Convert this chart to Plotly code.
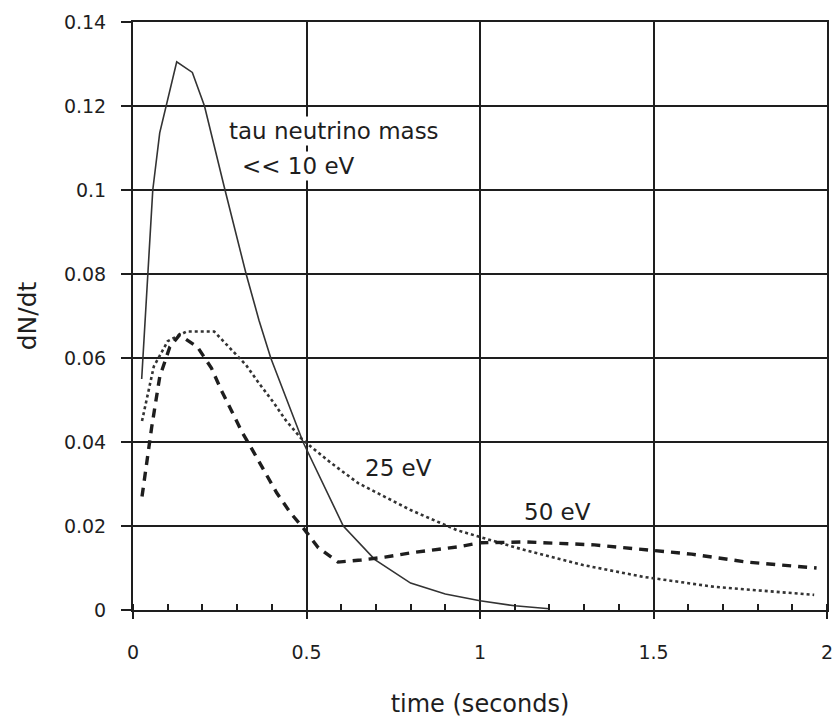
import plotly.graph_objects as go

# <<10 eV (solid)
t_light = [0.025, 0.046, 0.057, 0.077, 0.097, 0.126, 0.171, 0.206, 0.263, 0.326, 0.363, 0.397,
           0.49, 0.606, 0.697, 0.80, 0.90, 1.0, 1.1, 1.2]
n_light = [0.055, 0.083, 0.100, 0.1136, 0.1207, 0.1305, 0.128, 0.120, 0.1007, 0.080, 0.069, 0.060,
           0.040, 0.020, 0.012, 0.0064, 0.0038, 0.0022, 0.001, 0.0003]

# 25 eV (dotted)
t_25 = [0.026, 0.06, 0.1, 0.154, 0.234, 0.277, 0.326, 0.363, 0.406, 0.44, 0.483, 0.514, 0.571,
        0.649, 0.80, 0.934, 1.01, 1.106, 1.297, 1.47, 1.677, 1.963]
n_25 = [0.045, 0.058, 0.064, 0.0663, 0.0663, 0.0626, 0.0583, 0.054, 0.0493, 0.0452, 0.041, 0.0388,
        0.035, 0.0302, 0.0238, 0.019, 0.0171, 0.0148, 0.0107, 0.0079, 0.0055, 0.0036]

# 50 eV (dashed)
t_50 = [0.026, 0.054, 0.077, 0.106, 0.134, 0.186, 0.226, 0.254, 0.286, 0.314, 0.349, 0.383, 0.414,
        0.454, 0.491, 0.534, 0.591, 0.657, 0.726, 0.80, 0.934, 1.0, 1.134, 1.33, 1.47, 1.61, 1.77, 1.97]
n_50 = [0.027, 0.0436, 0.0555, 0.0626, 0.0655, 0.0626, 0.0576, 0.0524, 0.0471, 0.0424, 0.0374,
        0.0326, 0.0279, 0.0231, 0.0195, 0.0148, 0.0114, 0.0119, 0.0126, 0.0136, 0.015, 0.016, 0.0162,
        0.0155, 0.0145, 0.0133, 0.0114, 0.0100]

x_ticks = [0, 0.5, 1, 1.5, 2]
x_tick_labels = ["0", "0.5", "1", "1.5", "2"]
y_ticks = [0, 0.02, 0.04, 0.06, 0.08, 0.1, 0.12, 0.14]
y_tick_labels = ["0", "0.02", "0.04", "0.06", "0.08", "0.1", "0.12", "0.14"]

ink = "#1e1e1e"
FONT = "DejaVu Sans"

fig = go.Figure()
fig.add_trace(go.Scatter(x=t_light, y=n_light, mode="lines",
                         line=dict(color="#333333", width=1.6), showlegend=False))
fig.add_trace(go.Scatter(x=t_25, y=n_25, mode="lines",
                         line=dict(color="#333333", width=2.6, dash="dot"), showlegend=False))
fig.add_trace(go.Scatter(x=t_50, y=n_50, mode="lines",
                         line=dict(color=ink, width=3.4, dash="9px,7px"), showlegend=False))

ann_font = dict(family=FONT, size=23, color=ink)
fig.add_annotation(x=0.58, y=0.1140, text="tau neutrino mass", showarrow=False, font=ann_font,
                   xanchor="center", yanchor="middle", bgcolor="white")
fig.add_annotation(x=0.477, y=0.1057, text="<< 10 eV", showarrow=False, font=ann_font,
                   xanchor="center", yanchor="middle", bgcolor="white")
fig.add_annotation(x=0.766, y=0.0338, text="25 eV", showarrow=False, font=ann_font,
                   xanchor="center", yanchor="middle")
fig.add_annotation(x=1.223, y=0.0233, text="50 eV", showarrow=False, font=ann_font,
                   xanchor="center", yanchor="middle")

fig.update_layout(
    width=838, height=718,
    margin=dict(l=133, r=5, t=22, b=108),
    paper_bgcolor="white", plot_bgcolor="white",
    font=dict(family=FONT, color=ink),
)
fig.update_xaxes(
    range=[0, 2], tickvals=x_ticks, ticktext=x_tick_labels,
    showgrid=True, gridcolor=ink, gridwidth=2,
    showline=True, linecolor=ink, linewidth=2, mirror=True,
    ticks="outside", ticklen=7, tickcolor=ink, tickwidth=2,
    ticklabelstandoff=17,
    tickfont=dict(family=FONT, size=19, color=ink),
    minor=dict(dtick=0.1, tick0=0, ticks="inside", ticklen=6, tickcolor=ink, tickwidth=1.5, showgrid=False),
    title=dict(text="time (seconds)", font=dict(family=FONT, size=24, color=ink), standoff=33),
    zeroline=False,
)
fig.update_yaxes(
    range=[0, 0.14], tickvals=y_ticks, ticktext=y_tick_labels,
    showgrid=True, gridcolor=ink, gridwidth=2,
    showline=True, linecolor=ink, linewidth=2, mirror=True,
    ticks="outside", ticklen=10, tickcolor=ink, tickwidth=2,
    ticklabelstandoff=11,
    tickfont=dict(family=FONT, size=19, color=ink),
    title=dict(text="dN/dt", font=dict(family=FONT, size=25, color=ink), standoff=20),
    zeroline=False,
)

fig.write_html("out.html")
